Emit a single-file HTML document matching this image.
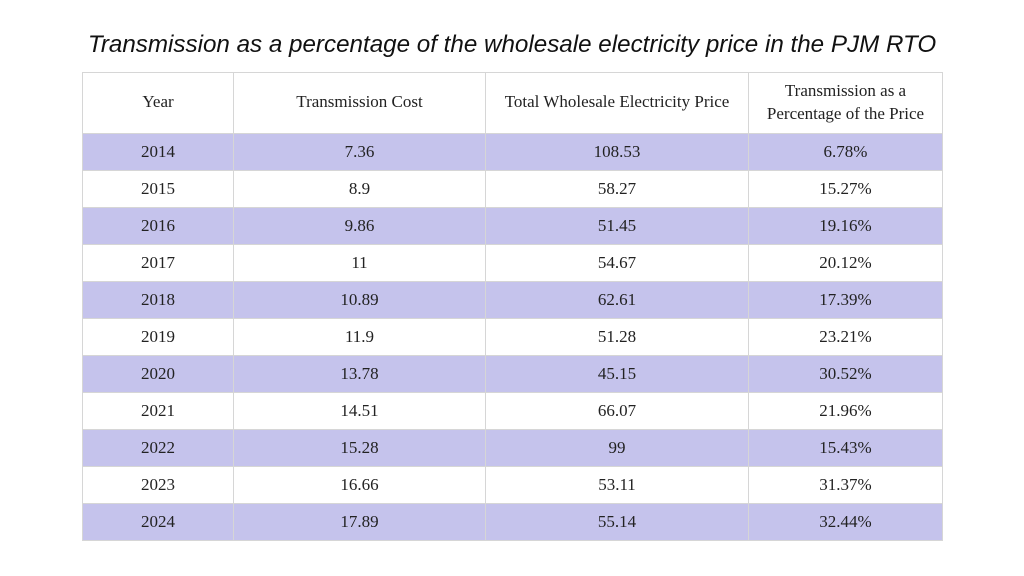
<!DOCTYPE html>
<html><head><style>
body{margin:0;width:1024px;height:576px;background:#fff;position:relative;overflow:hidden}
.t{position:absolute;top:31px;left:0;width:1024px;text-align:center;font-family:"Liberation Sans",sans-serif;font-style:italic;font-size:24.2px;color:#111;white-space:nowrap}
table{position:absolute;left:82px;top:72px;border-collapse:collapse;font-family:"Liberation Serif",serif;font-size:17px;color:#222}
td{border:1px solid #d6d6d6;text-align:center;height:35px;padding:0 0 1px 0;line-height:23px}
tr.h td{height:57px;padding-bottom:3px}
tr.p td{background:#c5c3ec}
</style></head><body>
<div class="t">Transmission as a percentage of the wholesale electricity price in the PJM RTO</div>
<table>
<colgroup><col style="width:151px"><col style="width:252px"><col style="width:263px"><col style="width:194px"></colgroup>
<tr class="h"><td>Year</td><td>Transmission Cost</td><td>Total Wholesale Electricity Price</td><td>Transmission as a<br>Percentage of the Price</td></tr>
<tr class="p"><td>2014</td><td>7.36</td><td>108.53</td><td>6.78%</td></tr>
<tr><td>2015</td><td>8.9</td><td>58.27</td><td>15.27%</td></tr>
<tr class="p"><td>2016</td><td>9.86</td><td>51.45</td><td>19.16%</td></tr>
<tr><td>2017</td><td>11</td><td>54.67</td><td>20.12%</td></tr>
<tr class="p"><td>2018</td><td>10.89</td><td>62.61</td><td>17.39%</td></tr>
<tr><td>2019</td><td>11.9</td><td>51.28</td><td>23.21%</td></tr>
<tr class="p"><td>2020</td><td>13.78</td><td>45.15</td><td>30.52%</td></tr>
<tr><td>2021</td><td>14.51</td><td>66.07</td><td>21.96%</td></tr>
<tr class="p"><td>2022</td><td>15.28</td><td>99</td><td>15.43%</td></tr>
<tr><td>2023</td><td>16.66</td><td>53.11</td><td>31.37%</td></tr>
<tr class="p"><td>2024</td><td>17.89</td><td>55.14</td><td>32.44%</td></tr>
</table>
</body></html>
